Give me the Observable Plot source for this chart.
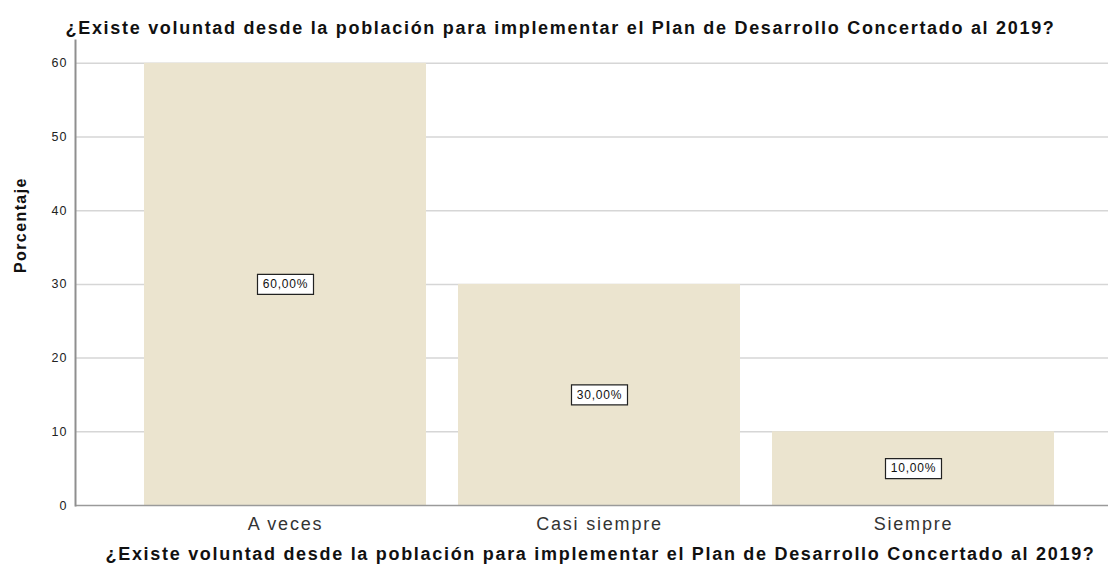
<!DOCTYPE html>
<html>
<head>
<meta charset="utf-8">
<script src="https://cdn.jsdelivr.net/npm/d3@7"></script>
<script src="https://cdn.jsdelivr.net/npm/@observablehq/plot@0.6"></script>
<style>
  html, body { margin: 0; padding: 0; background: #fff; }
  body { width: 1110px; height: 570px; overflow: hidden; }
  .ttl text { letter-spacing: 1.7px; }
  .xt text { letter-spacing: 1.8px; }
  .yt text { letter-spacing: 1px; }
  .vl text { letter-spacing: 0.8px; }
  .yl text { letter-spacing: 1.4px; }
</style>
</head>
<body>
<div id="chart"></div>
<script>
const categories = ["A veces", "Casi siempre", "Siempre"];
const percentages = [60, 30, 10];
const valueLabels = ["60,00%", "30,00%", "10,00%"];
const yTicks = [0, 10, 20, 30, 40, 50, 60];
const titleText = "¿Existe voluntad desde la población para implementar el Plan de Desarrollo Concertado al 2019?";
const yLabel = "Porcentaje";

const data = categories.map((c, i) => ({cat: c, pct: percentages[i], label: valueLabels[i]}));

const boxSymbol = {
  draw(context) {
    context.rect(-28, -10, 56, 20);
  }
};

const chart = Plot.plot({
  width: 1110,
  height: 570,
  marginLeft: 75,
  marginRight: 2,
  marginTop: 40,
  marginBottom: 65,
  style: {fontFamily: "'Liberation Sans', Arial, sans-serif", background: "#fff"},
  x: {domain: categories, range: [75, 1122], paddingInner: 0.103, paddingOuter: 0.216, label: null},
  y: {domain: [0, 63.1], label: null},
  marks: [
    Plot.ruleY(yTicks.filter(d => d > 0), {stroke: "#d6d6d6", strokeWidth: 1.5}),
    Plot.barY(data, {x: "cat", y: "pct", fill: "#ebe4cf"}),
    Plot.ruleY([0], {stroke: "#9a9a9a", strokeWidth: 1.5}),
    Plot.frame({anchor: "left", stroke: "#8f8f8f", strokeWidth: 2}),
    Plot.axisY({ticks: yTicks, tickSize: 0, tickPadding: 8, fontSize: 12.5, fill: "#222", label: null, className: "yt"}),
    Plot.axisX({tickSize: 0, tickPadding: 12, fontSize: 18, fill: "#333", label: null, className: "xt"}),
    Plot.dot(data, {x: "cat", y: d => d.pct / 2, symbol: boxSymbol, fill: "#fff", stroke: "#222", strokeWidth: 1.2}),
    Plot.text(data, {x: "cat", y: d => d.pct / 2, text: "label", fontSize: 12, fill: "#111", className: "vl"}),
    Plot.text([titleText], {frameAnchor: "top-left", dx: -10, dy: -19, textAnchor: "start", fontSize: 18, fontWeight: "bold", fill: "#111", className: "ttl"}),
    Plot.text([titleText], {frameAnchor: "bottom-left", dx: 30, dy: 54, textAnchor: "start", fontSize: 18, fontWeight: "bold", fill: "#111", className: "ttl"}),
    Plot.text([yLabel], {frameAnchor: "left", dx: -55, rotate: -90, fontSize: 16, fontWeight: "bold", fill: "#111", className: "yl"})
  ]
});
document.getElementById("chart").appendChild(chart);
</script>
</body>
</html>
